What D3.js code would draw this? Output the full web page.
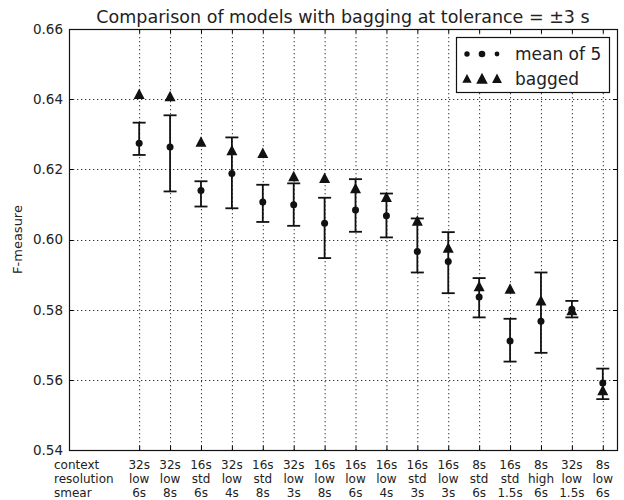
<!DOCTYPE html>
<html>
<head>
<meta charset="utf-8">
<script src="https://cdn.jsdelivr.net/npm/d3@7"></script>
<style>
  body { margin: 0; background: white }
  svg { font-family: 'DejaVu Sans', sans-serif }
</style>
</head>
<body>
<div id="chart"></div>
<script>
// category labels, one row each
const contexts = ['32s', '32s', '16s', '32s', '16s', '32s', '16s', '16s', '16s', '16s', '16s', '8s', '16s', '8s', '32s', '8s']
const resolutions = ['low', 'low', 'std', 'low', 'std', 'low', 'low', 'low', 'low', 'std', 'low', 'std', 'std', 'high', 'low', 'low']
const smears = ['6s', '8s', '6s', '4s', '8s', '3s', '8s', '6s', '4s', '3s', '3s', '6s', '1.5s', '6s', '1.5s', '6s']

// mean of 5 runs, with the error bar extent
const meanValues = [0.6274, 0.6264, 0.6140, 0.6188, 0.6107, 0.6099, 0.6046, 0.6084, 0.6068, 0.5966, 0.5937, 0.5836, 0.5711, 0.5767, 0.5801, 0.5591]
const errLow = [0.6241, 0.6137, 0.6094, 0.6089, 0.6050, 0.6039, 0.5947, 0.6022, 0.6006, 0.5906, 0.5847, 0.5778, 0.5652, 0.5677, 0.5778, 0.5545]
const errHigh = [0.6333, 0.6354, 0.6166, 0.6291, 0.6156, 0.6160, 0.6119, 0.6172, 0.6131, 0.6060, 0.6021, 0.5890, 0.5774, 0.5906, 0.5825, 0.5632]

// bagged model
const baggedValues = [0.6413, 0.6407, 0.6277, 0.6253, 0.6245, 0.6179, 0.6174, 0.6145, 0.6120, 0.6052, 0.5975, 0.5865, 0.5858, 0.5825, 0.5797, 0.5569]

const yTicks = [0.54, 0.56, 0.58, 0.60, 0.62, 0.64, 0.66]
const rowNames = ['context', 'resolution', 'smear']

const width = 624
const height = 500
const plotLeft = 69
const plotRight = 617
const plotTop = 29
const plotBottom = 450

const svg = d3.select('#chart').append('svg')
  .attr('width', width)
  .attr('height', height)

const x = d3.scaleLinear()
  .domain([-2.27, 15.46])
  .range([plotLeft, plotRight])

const y = d3.scaleLinear()
  .domain([0.54, 0.66])
  .range([plotBottom, plotTop])

const idx = d3.range(meanValues.length)

// dotted grid
const grid = svg.append('g')
  .attr('stroke', '#333')
  .attr('stroke-width', 1)
  .attr('stroke-dasharray', '1.3,2.7')
grid.selectAll('line.v')
  .data(idx)
  .enter()
  .append('line')
  .attr('x1', d => x(d) + 0.5)
  .attr('x2', d => x(d) + 0.5)
  .attr('y1', plotTop)
  .attr('y2', plotBottom)
grid.selectAll('line.h')
  .data(yTicks.slice(1, -1))
  .enter()
  .append('line')
  .attr('x1', plotLeft)
  .attr('x2', plotRight)
  .attr('y1', d => Math.round(y(d)) + 0.5)
  .attr('y2', d => Math.round(y(d)) + 0.5)

// inward tick marks on all four sides
const tickLen = 4
const ticks = svg.append('g')
  .attr('stroke', 'black')
  .attr('stroke-width', 1)
idx.forEach(d => {
  let px = x(d) + 0.5
  ticks.append('line').attr('x1', px).attr('x2', px).attr('y1', plotTop).attr('y2', plotTop + tickLen)
  ticks.append('line').attr('x1', px).attr('x2', px).attr('y1', plotBottom).attr('y2', plotBottom - tickLen)
})
yTicks.forEach(v => {
  let py = Math.round(y(v)) + 0.5
  ticks.append('line').attr('x1', plotLeft).attr('x2', plotLeft + tickLen).attr('y1', py).attr('y2', py)
  ticks.append('line').attr('x1', plotRight).attr('x2', plotRight - tickLen).attr('y1', py).attr('y2', py)
})

// y tick labels
svg.append('g')
  .selectAll('text')
  .data(yTicks)
  .enter()
  .append('text')
  .attr('x', plotLeft - 6)
  .attr('y', d => y(d))
  .attr('dy', '0.36em')
  .attr('text-anchor', 'end')
  .attr('font-size', 13.5)
  .attr('fill', '#222')
  .text(d => d.toFixed(2))

svg.append('text')
  .attr('transform', `translate(22,${(plotTop + plotBottom) / 2}) rotate(-90)`)
  .attr('text-anchor', 'middle')
  .attr('font-size', 13)
  .attr('fill', '#222')
  .text('F-measure')

// three-row category labels
const rows = [contexts, resolutions, smears]
const rowY = [469, 483, 497]
rows.forEach((labels, r) => {
  svg.append('text')
    .attr('x', 54)
    .attr('y', rowY[r])
    .attr('font-size', 12)
    .attr('fill', '#222')
    .text(rowNames[r])
  svg.append('g')
    .selectAll('text')
    .data(labels)
    .enter()
    .append('text')
    .attr('x', (d, i) => x(i))
    .attr('y', rowY[r])
    .attr('text-anchor', 'middle')
    .attr('font-size', 12)
    .attr('fill', '#222')
    .text(d => d)
})

// error bars
const bars = svg.append('g')
  .attr('stroke', '#111')
  .attr('stroke-width', 1.8)
idx.forEach(i => {
  let px = x(i)
  bars.append('line').attr('x1', px).attr('x2', px).attr('y1', y(errLow[i])).attr('y2', y(errHigh[i]))
  bars.append('line').attr('x1', px - 6.5).attr('x2', px + 6.5).attr('y1', y(errLow[i])).attr('y2', y(errLow[i]))
  bars.append('line').attr('x1', px - 6.5).attr('x2', px + 6.5).attr('y1', y(errHigh[i])).attr('y2', y(errHigh[i]))
})

const triangle = s => `M0,${-s * 0.6}L${s * 0.55},${s * 0.45}L${-s * 0.55},${s * 0.45}Z`

// mean markers
svg.append('g')
  .selectAll('circle')
  .data(meanValues)
  .enter()
  .append('circle')
  .attr('cx', (d, i) => x(i))
  .attr('cy', d => y(d))
  .attr('r', 3.5)
  .attr('fill', '#111')

// bagged markers
svg.append('g')
  .selectAll('path')
  .data(baggedValues)
  .enter()
  .append('path')
  .attr('transform', (d, i) => `translate(${x(i)},${y(d)})`)
  .attr('d', triangle(10))
  .attr('fill', '#111')

// frame
svg.append('rect')
  .attr('x', plotLeft + 0.5)
  .attr('y', plotTop + 0.5)
  .attr('width', plotRight - plotLeft)
  .attr('height', plotBottom - plotTop)
  .attr('fill', 'none')
  .attr('stroke', '#111')
  .attr('stroke-width', 1.2)

// legend
const legend = svg.append('g')
legend.append('rect')
  .attr('x', 456.5)
  .attr('y', 37.5)
  .attr('width', 153)
  .attr('height', 55)
  .attr('fill', 'white')
  .attr('stroke', '#111')
  .attr('stroke-width', 1.2)
const legendX = [467, 482, 497]
const dotSizes = [2.7, 3.3, 2.4]
const triSizes = [8.5, 10.5, 9]
legendX.forEach((lx, k) => {
  legend.append('circle')
    .attr('cx', lx)
    .attr('cy', 54)
    .attr('r', dotSizes[k])
    .attr('fill', '#111')
  legend.append('path')
    .attr('transform', `translate(${lx},79)`)
    .attr('d', triangle(triSizes[k]))
    .attr('fill', '#111')
})
legend.append('text')
  .attr('x', 515)
  .attr('y', 60)
  .attr('font-size', 17)
  .attr('fill', '#222')
  .text('mean of 5')
legend.append('text')
  .attr('x', 515)
  .attr('y', 85)
  .attr('font-size', 17)
  .attr('fill', '#222')
  .text('bagged')

// title
svg.append('text')
  .attr('x', (plotLeft + plotRight) / 2)
  .attr('y', 23)
  .attr('text-anchor', 'middle')
  .attr('font-size', 17.5)
  .attr('fill', '#222')
  .text('Comparison of models with bagging at tolerance = ±3 s')
</script>
</body>
</html>
